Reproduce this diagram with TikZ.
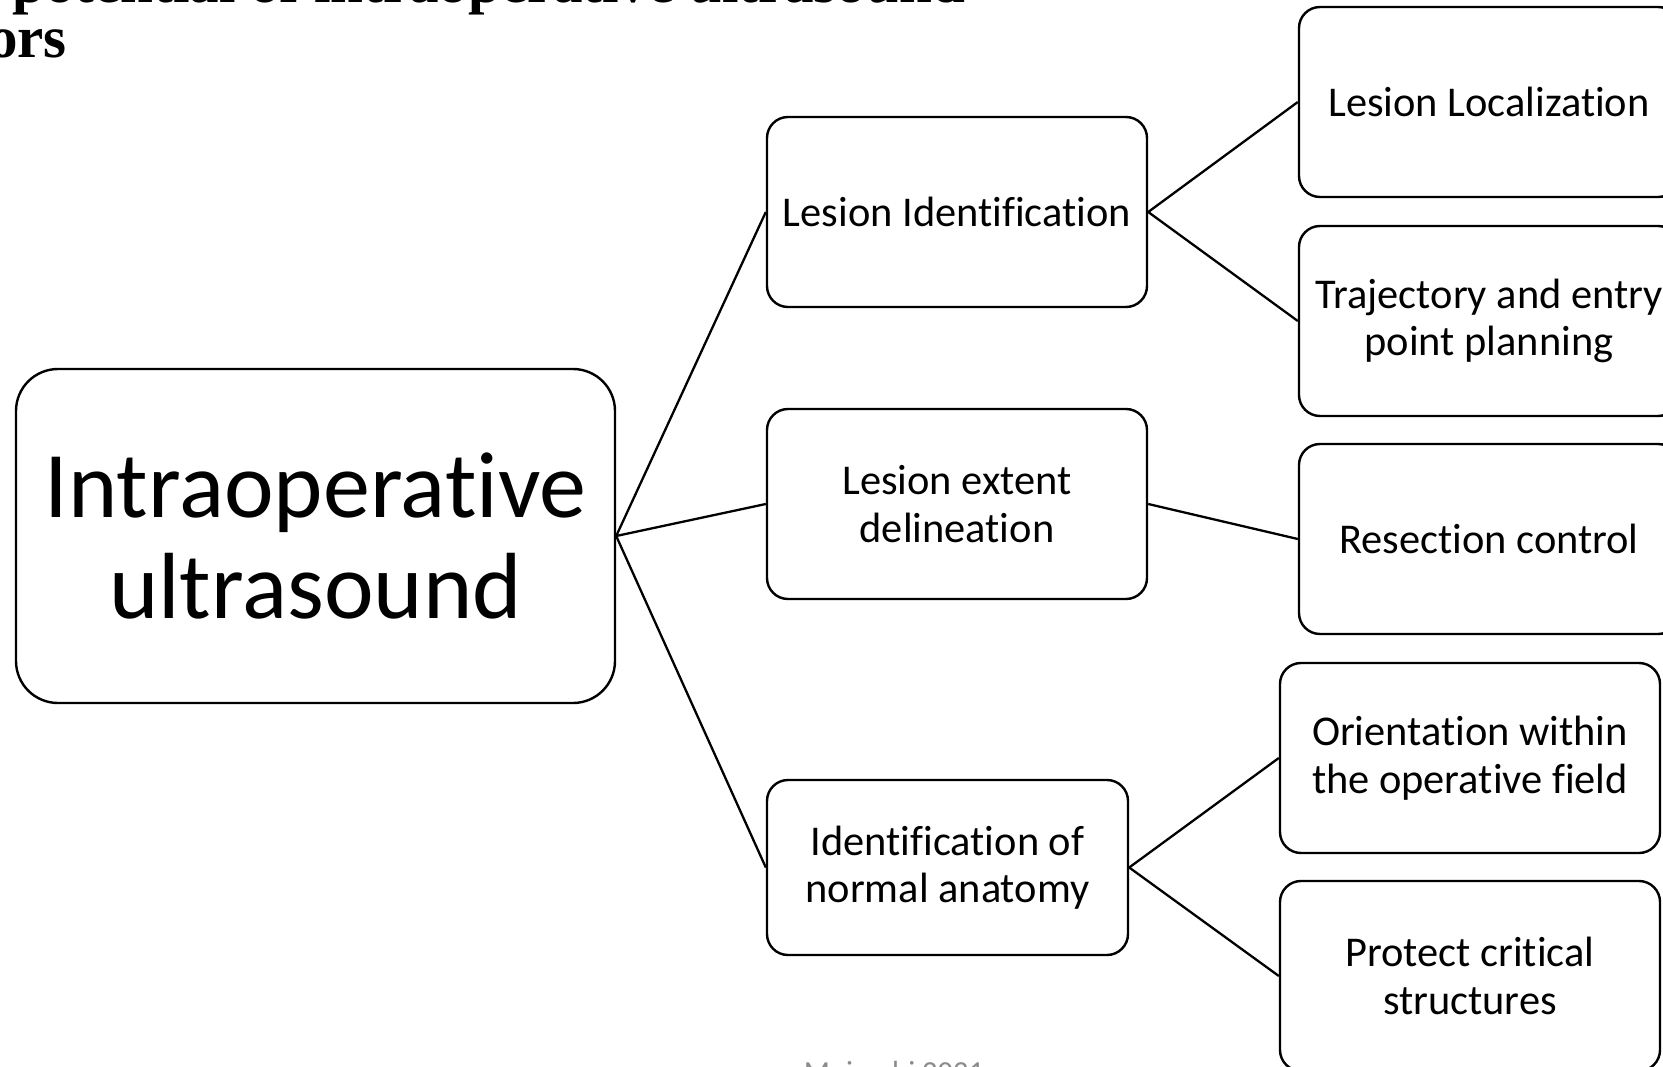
\documentclass[tikz,border=0pt]{standalone}
\usepackage{fontspec}
\setmainfont{Carlito}[Ligatures={NoCommon,NoRequired,NoContextual}]
\newfontfamily\titlefont{Liberation Serif}
\definecolor{footgray}{HTML}{8C8C8C}
\begin{document}
\begin{tikzpicture}[x=1pt,y=-1pt,
  box/.style={draw=black, line width=2.4pt, rounded corners=#1, fill=white,
    align=center, inner sep=0pt},
  box/.default=21pt,
  smallbox/.style={box, minimum width=380pt, minimum height=190pt,
    font=\fontsize{42.4}{47.5}\selectfont},
  link/.style={draw=black, line width=2.3pt},
  titletext/.style={anchor=base east, inner sep=0pt,
    font=\titlefont\bfseries\fontsize{59}{60}\selectfont}]
\useasboundingbox (0,0) rectangle (1663,1067);
\clip (0,0) rectangle (1663,1067);
\fill[white] (0,0) rectangle (1663,1067);

% partly visible title and footer
\node[titletext] (t1) at (965,3) {The potential of intraoperative ultrasound};
\node[titletext] (t2) at (67,58) {tumors};
\node[anchor=base, inner sep=0pt, text=footgray,
  font=\fontsize{30.6}{32}\selectfont] (ft) at (894,1082) {Moiraghi 2021};

% nodes
\node[box=42pt, minimum width=599pt, minimum height=334pt,
  font=\fontsize{94}{100.5}\selectfont] (main) at (315.5,536) {Intraoperative\\ultrasound};
\node[smallbox] (li) at (957,212) {Lesion Identification};
\node[smallbox] (led) at (957,504) {Lesion extent\\delineation};
\node[smallbox, minimum width=361pt, minimum height=175pt] (ina) at (947.5,867.5) {Identification of\\normal anatomy};
\node[smallbox] (ll) at (1489,102) {Lesion Localization};
\node[smallbox] (tr) at (1489,321) {Trajectory and entry\\point planning};
\node[smallbox] (rc) at (1489,539) {Resection control};
\node[smallbox] (or) at (1470,758) {Orientation within\\the operative field};
\node[smallbox] (pc) at (1470,976) {Protect critical\\structures};

% connectors
\draw[link] (main.east) -- (li.west);
\draw[link] (main.east) -- (led.west);
\draw[link] (main.east) -- (ina.west);
\draw[link] (li.east) -- (ll.west);
\draw[link] (li.east) -- (tr.west);
\draw[link] (led.east) -- (rc.west);
\draw[link] (ina.east) -- (or.west);
\draw[link] (ina.east) -- (pc.west);
\end{tikzpicture}
\end{document}
